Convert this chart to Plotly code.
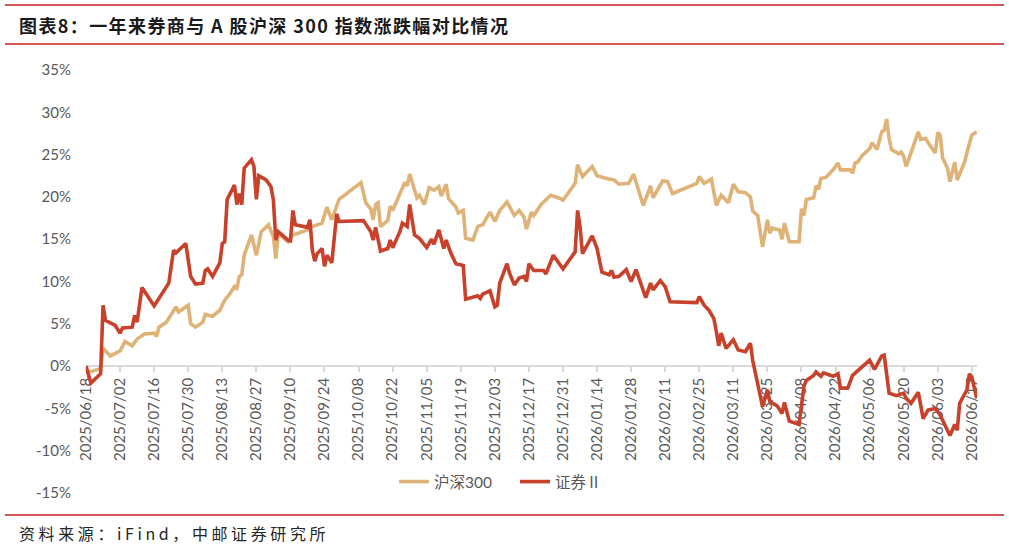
import plotly.graph_objects as go

# ---------------- data ----------------
hs300_dates = [
    "2025-06-18", "2025-06-24", "2025-06-25", "2025-06-28", "2025-07-02", "2025-07-04", "2025-07-07",
    "2025-07-09", "2025-07-12", "2025-07-16", "2025-07-17", "2025-07-18", "2025-07-21", "2025-07-25",
    "2025-07-26", "2025-07-28", "2025-07-30", "2025-07-31", "2025-08-02", "2025-08-05", "2025-08-06",
    "2025-08-09", "2025-08-12", "2025-08-14", "2025-08-16", "2025-08-18", "2025-08-19", "2025-08-20",
    "2025-08-21", "2025-08-22", "2025-08-25", "2025-08-27", "2025-08-29", "2025-09-01", "2025-09-03",
    "2025-09-04", "2025-09-05", "2025-09-09", "2025-09-11", "2025-09-14", "2025-09-17", "2025-09-18",
    "2025-09-20", "2025-09-23", "2025-09-25", "2025-09-27", "2025-09-30", "2025-10-09", "2025-10-11",
    "2025-10-13", "2025-10-14", "2025-10-15", "2025-10-16", "2025-10-17", "2025-10-20", "2025-10-21",
    "2025-10-22", "2025-10-25", "2025-10-27", "2025-10-28", "2025-10-29", "2025-11-01", "2025-11-02",
    "2025-11-04", "2025-11-06", "2025-11-08", "2025-11-10", "2025-11-11", "2025-11-13", "2025-11-14",
    "2025-11-17", "2025-11-18", "2025-11-20", "2025-11-21", "2025-11-24", "2025-11-26", "2025-11-28",
    "2025-12-01", "2025-12-03", "2025-12-05", "2025-12-08", "2025-12-11", "2025-12-13", "2025-12-15",
    "2025-12-16", "2025-12-18", "2025-12-19", "2025-12-22", "2025-12-26", "2025-12-30", "2025-12-31",
    "2026-01-05", "2026-01-06", "2026-01-08", "2026-01-12", "2026-01-14", "2026-01-17", "2026-01-19",
    "2026-01-21", "2026-01-23", "2026-01-27", "2026-01-29", "2026-02-02", "2026-02-05", "2026-02-06",
    "2026-02-10", "2026-02-12", "2026-02-14", "2026-02-24", "2026-02-25", "2026-02-27", "2026-03-02",
    "2026-03-04", "2026-03-06", "2026-03-09", "2026-03-11", "2026-03-13", "2026-03-16", "2026-03-18",
    "2026-03-19", "2026-03-21", "2026-03-23", "2026-03-25", "2026-03-26", "2026-03-27", "2026-03-30",
    "2026-03-31", "2026-04-01", "2026-04-03", "2026-04-07", "2026-04-08", "2026-04-09", "2026-04-10",
    "2026-04-13", "2026-04-14", "2026-04-15", "2026-04-16", "2026-04-18", "2026-04-21", "2026-04-23",
    "2026-04-24", "2026-04-28", "2026-04-29", "2026-04-30", "2026-05-01", "2026-05-03", "2026-05-06",
    "2026-05-07", "2026-05-09", "2026-05-11", "2026-05-12", "2026-05-13", "2026-05-14", "2026-05-15",
    "2026-05-18", "2026-05-19", "2026-05-20", "2026-05-21", "2026-05-23", "2026-05-26", "2026-05-27",
    "2026-05-29", "2026-05-31", "2026-06-02", "2026-06-03", "2026-06-04", "2026-06-05", "2026-06-07",
    "2026-06-08", "2026-06-10", "2026-06-11", "2026-06-14", "2026-06-16", "2026-06-17", "2026-06-19",
]
hs300_values = [
    -0.8, -0.3, 2.1, 1.2, 1.8, 2.9, 2.4,
    3.2, 3.8, 3.9, 3.5, 4.6, 5.2, 7.0,
    6.4, 6.8, 7.2, 5.0, 4.6, 5.2, 6.1,
    5.9, 6.6, 7.8, 8.5, 9.4, 9.2, 10.6,
    10.8, 13.1, 15.5, 13.1, 15.9, 16.7, 15.3,
    12.7, 15.7, 14.7, 15.5, 15.8, 16.1, 16.4,
    16.6, 16.9, 18.8, 17.3, 19.7, 21.7, 19.3,
    18.6, 17.3, 19.1, 19.3, 16.5, 17.2, 18.9,
    18.4, 20.4, 21.7, 21.3, 22.7, 19.9, 20.2,
    19.1, 21.1, 20.8, 21.2, 20.1, 21.5, 19.8,
    18.8, 18.1, 18.4, 15.1, 14.9, 16.5, 16.7,
    18.2, 17.1, 18.4, 19.4, 17.8, 18.4, 17.6,
    16.2, 18.2, 17.8, 19.1, 20.2, 19.8, 19.6,
    21.6, 23.8, 22.4, 23.6, 22.5, 22.2, 22.1,
    22.0, 21.5, 21.6, 22.7, 19.0, 21.3, 19.9,
    21.9, 21.8, 20.4, 21.6, 22.4, 21.6, 22.1,
    19.0, 20.2, 19.3, 21.5, 20.6, 20.5, 20.0,
    18.3, 17.8, 14.1, 17.3, 15.7, 16.3, 16.1,
    15.0, 16.9, 14.7, 14.7, 18.6, 17.8, 19.7,
    19.9, 21.3, 20.9, 22.2, 22.3, 23.2, 24.0,
    23.2, 23.2, 22.8, 24.0, 24.1, 24.9, 25.7,
    26.4, 25.6, 27.7, 27.9, 29.2, 26.9, 25.6,
    25.1, 25.3, 24.8, 23.6, 25.2, 27.7, 26.8,
    26.9, 26.0, 25.2, 27.6, 27.3, 24.6, 23.4,
    21.8, 24.1, 22.0, 24.1, 26.3, 27.3, 27.7,
]

broker_dates = [
    "2025-06-18", "2025-06-20", "2025-06-24", "2025-06-25", "2025-06-26", "2025-06-30", "2025-07-02",
    "2025-07-03", "2025-07-07", "2025-07-08", "2025-07-09", "2025-07-11", "2025-07-16", "2025-07-22",
    "2025-07-24", "2025-07-25", "2025-07-29", "2025-07-31", "2025-08-02", "2025-08-05", "2025-08-06",
    "2025-08-07", "2025-08-09", "2025-08-12", "2025-08-13", "2025-08-14", "2025-08-15", "2025-08-18",
    "2025-08-19", "2025-08-20", "2025-08-21", "2025-08-22", "2025-08-25", "2025-08-26", "2025-08-27",
    "2025-08-28", "2025-08-31", "2025-09-02", "2025-09-03", "2025-09-04", "2025-09-05", "2025-09-09",
    "2025-09-10", "2025-09-11", "2025-09-12", "2025-09-17", "2025-09-18", "2025-09-19", "2025-09-20",
    "2025-09-21", "2025-09-23", "2025-09-24", "2025-09-25", "2025-09-27", "2025-09-29", "2025-09-30",
    "2025-10-10", "2025-10-13", "2025-10-14", "2025-10-15", "2025-10-17", "2025-10-20", "2025-10-21",
    "2025-10-22", "2025-10-25", "2025-10-26", "2025-10-28", "2025-10-29", "2025-10-31", "2025-11-02",
    "2025-11-05", "2025-11-07", "2025-11-08", "2025-11-10", "2025-11-12", "2025-11-13", "2025-11-15",
    "2025-11-17", "2025-11-20", "2025-11-21", "2025-11-26", "2025-11-27", "2025-11-28", "2025-12-01",
    "2025-12-03", "2025-12-04", "2025-12-05", "2025-12-08", "2025-12-09", "2025-12-11", "2025-12-13",
    "2025-12-15", "2025-12-16", "2025-12-17", "2025-12-19", "2025-12-23", "2025-12-24", "2025-12-27",
    "2025-12-31", "2026-01-05", "2026-01-06", "2026-01-07", "2026-01-08", "2026-01-12", "2026-01-14",
    "2026-01-16", "2026-01-19", "2026-01-20", "2026-01-21", "2026-01-23", "2026-01-26", "2026-01-28",
    "2026-01-30", "2026-02-01", "2026-02-03", "2026-02-05", "2026-02-06", "2026-02-09", "2026-02-11",
    "2026-02-13", "2026-02-24", "2026-02-25", "2026-02-27", "2026-03-01", "2026-03-03", "2026-03-04",
    "2026-03-05", "2026-03-06", "2026-03-08", "2026-03-11", "2026-03-13", "2026-03-16", "2026-03-18",
    "2026-03-19", "2026-03-22", "2026-03-23", "2026-03-25", "2026-03-26", "2026-03-29", "2026-03-31",
    "2026-04-01", "2026-04-03", "2026-04-06", "2026-04-07", "2026-04-09", "2026-04-10", "2026-04-13",
    "2026-04-14", "2026-04-16", "2026-04-17", "2026-04-21", "2026-04-23", "2026-04-24", "2026-04-27",
    "2026-04-29", "2026-05-01", "2026-05-06", "2026-05-08", "2026-05-11", "2026-05-12", "2026-05-14",
    "2026-05-17", "2026-05-20", "2026-05-21", "2026-05-23", "2026-05-26", "2026-05-28", "2026-05-30",
    "2026-06-02", "2026-06-04", "2026-06-08", "2026-06-10", "2026-06-11", "2026-06-12", "2026-06-15",
    "2026-06-16", "2026-06-17", "2026-06-19",
]
broker_values = [
    0.0, -2.0, -0.9, 7.2, 5.4, 4.8, 3.9,
    4.5, 4.6, 6.0, 5.2, 9.3, 7.1, 9.8,
    13.7, 13.4, 14.5, 10.6, 9.7, 9.8, 11.3,
    11.5, 10.6, 12.2, 14.5, 14.7, 19.7, 21.4,
    19.1, 20.4, 19.1, 23.4, 24.4, 23.6, 19.7,
    22.5, 22.0, 21.2, 19.6, 14.9, 15.9, 14.9,
    14.8, 18.4, 16.7, 16.4, 17.3, 13.7, 12.4,
    13.3, 13.9, 11.8, 13.1, 12.2, 18.0, 17.1,
    17.2, 15.9, 14.9, 16.4, 13.6, 13.9, 14.9,
    14.0, 15.9, 16.9, 16.5, 19.1, 15.5, 15.1,
    14.0, 15.0, 14.4, 16.1, 13.9, 14.9, 13.3,
    12.1, 11.9, 7.9, 8.3, 8.0, 8.5, 8.9,
    7.0, 7.2, 9.8, 12.1, 11.0, 9.6, 10.4,
    10.6, 10.0, 12.1, 11.3, 11.3, 10.9, 13.1,
    11.5, 13.5, 18.4, 16.5, 13.3, 15.4, 13.9,
    11.1, 10.8, 11.3, 10.5, 10.6, 11.4, 10.0,
    11.4, 9.6, 8.1, 9.8, 9.0, 10.1, 9.4,
    7.6, 7.5, 8.2, 7.2, 6.6, 5.6, 4.1,
    2.4, 3.9, 2.1, 3.1, 1.9, 1.7, 2.7,
    0.6, -3.2, -4.8, -2.8, -4.2, -4.7, -5.6,
    -4.3, -6.5, -6.8, -6.9, -2.4, -1.7, -1.1,
    -0.7, -1.2, -0.8, -1.2, -0.9, -2.6, -2.6,
    -1.1, -0.6, 0.7, -0.4, 1.2, 1.3, -3.2,
    -3.5, -3.2, -3.8, -4.4, -3.1, -6.2, -5.2,
    -5.0, -5.8, -8.2, -6.9, -7.6, -4.4, -2.8,
    -0.9, -1.3, -3.8,
]

series_names = ["沪深300", "证券Ⅱ"]

x_tick_dates = [
    "2025-06-18", "2025-07-02", "2025-07-16", "2025-07-30", "2025-08-13", "2025-08-27",
    "2025-09-10", "2025-09-24", "2025-10-08", "2025-10-22", "2025-11-05", "2025-11-19",
    "2025-12-03", "2025-12-17", "2025-12-31", "2026-01-14", "2026-01-28", "2026-02-11",
    "2026-02-25", "2026-03-11", "2026-03-25", "2026-04-08", "2026-04-22", "2026-05-06",
    "2026-05-20", "2026-06-03", "2026-06-17",
]
y_tick_values = [-15, -10, -5, 0, 5, 10, 15, 20, 25, 30, 35]

title_text = "图表8：一年来券商与 A 股沪深 300 指数涨跌幅对比情况"
source_text = "资料来源：iFind，中邮证券研究所"

# ---------------- layout geometry ----------------
W, H = 1009, 550
L, R, T, B = 86, 32, 70, 57
PW, PH = W - L - R, H - T - B


def px(xp):
    return (xp - L) / PW


def py(yp):
    return (H - B - yp) / PH


TAN = "#DFB277"
RED = "#C8412A"
RULE = "#C81E1E"
AXIS_GREY = "#D9D9D9"
TEXT_GREY = "#595959"
FONT = "Lato, Noto Sans CJK SC, sans-serif"

fig = go.Figure()
fig.add_trace(go.Scatter(x=hs300_dates, y=hs300_values, name=series_names[0], mode="lines",
                         line=dict(color=TAN, width=3.6)))
fig.add_trace(go.Scatter(x=broker_dates, y=broker_values, name=series_names[1], mode="lines",
                         line=dict(color=RED, width=3.6)))

y_min, y_max = y_tick_values[0], y_tick_values[-1]

fig.update_layout(
    width=W, height=H,
    margin=dict(l=L, r=R, t=T, b=B, pad=0),
    paper_bgcolor="white", plot_bgcolor="white",
    font=dict(family=FONT, size=15, color=TEXT_GREY),
    showlegend=True,
    legend=dict(orientation="h", x=px(394), xanchor="left", y=py(482), yanchor="middle",
                font=dict(family=FONT, size=15.5, color=TEXT_GREY), bgcolor="rgba(0,0,0,0)",
                entrywidth=76, entrywidthmode="pixels", tracegroupgap=0),
    xaxis=dict(
        type="date",
        range=["2025-06-18", "2026-06-19 03:00"],
        anchor="free", position=(0 - y_min) / (y_max - y_min),
        tickmode="array", tickvals=x_tick_dates,
        ticktext=[d.replace("-", "/") for d in x_tick_dates],
        tickangle=-90,
        showline=True, linecolor=AXIS_GREY, linewidth=1.5,
        ticks="outside", ticklen=5, tickcolor=AXIS_GREY, tickwidth=1.5,
        showgrid=False, zeroline=False,
        tickfont=dict(family=FONT, size=15, color=TEXT_GREY),
        layer="below traces",
    ),
    yaxis=dict(
        range=[y_min, y_max],
        tickmode="array", tickvals=y_tick_values,
        ticktext=[f"{v}%" for v in y_tick_values],
        showline=False, showgrid=False, zeroline=False, ticks="",
        ticklabelstandoff=14,
        tickfont=dict(family=FONT, size=15, color=TEXT_GREY),
    ),
)

# header / footer rules
for yline in (5, 44, 515):
    fig.add_shape(type="line", xref="paper", yref="paper",
                  x0=px(5), x1=px(1004), y0=py(yline), y1=py(yline),
                  line=dict(color=RULE, width=1.5))

fig.add_annotation(text=f"<span style='letter-spacing:1.4px'><b>{title_text}</b></span>",
                   xref="paper", yref="paper",
                   x=px(17), y=py(25), xanchor="left", yanchor="middle", showarrow=False,
                   font=dict(family="Noto Sans CJK SC", size=18, color="#1A1A1A"))
fig.add_annotation(text=f"<span style='letter-spacing:3.6px'>{source_text}</span>",
                   xref="paper", yref="paper",
                   x=px(17), y=py(533), xanchor="left", yanchor="middle", showarrow=False,
                   font=dict(family="Noto Sans CJK SC", size=16, color="#262626"))

fig.write_html("out.html")
